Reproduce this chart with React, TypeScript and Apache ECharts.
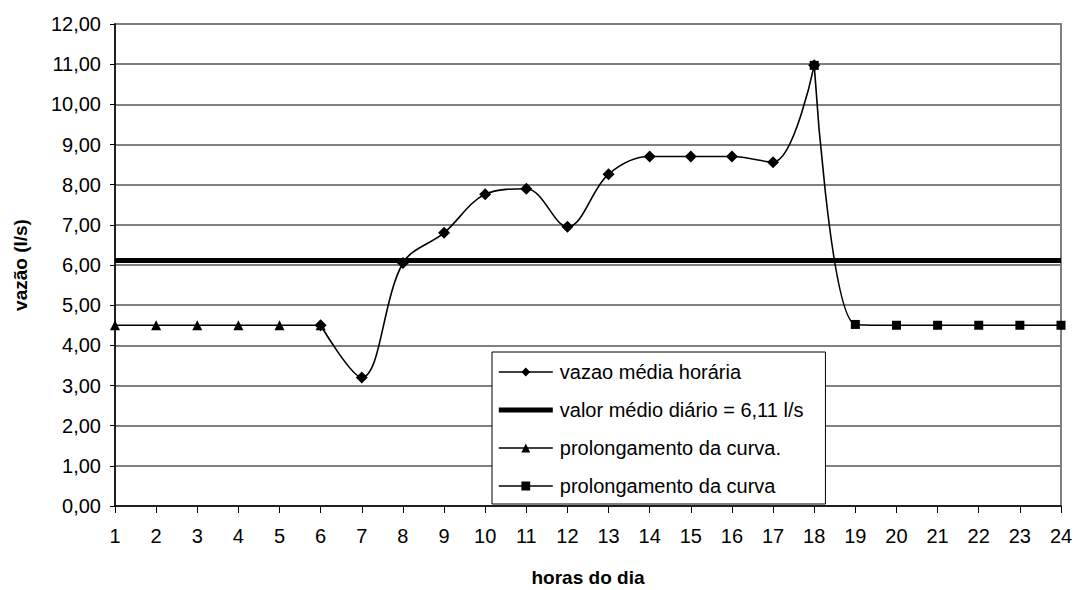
import React, { useEffect, useRef } from "react";
import * as echarts from "echarts";

const hours = ["1","2","3","4","5","6","7","8","9","10","11","12","13","14","15","16","17","18","19","20","21","22","23","24"];
const vazaoMedia = [null,null,null,null,null,4.5,3.2,6.05,6.8,7.76,7.9,6.95,8.26,8.7,8.7,8.7,8.56,10.97,null,null,null,null,null,null];
const valorMedio = [6.11,6.11,6.11,6.11,6.11,6.11,6.11,6.11,6.11,6.11,6.11,6.11,6.11,6.11,6.11,6.11,6.11,6.11,6.11,6.11,6.11,6.11,6.11,6.11];
const prolongInicio = [4.5,4.5,4.5,4.5,4.5,4.5,null,null,null,null,null,null,null,null,null,null,null,null,null,null,null,null,null,null];
const prolongFim = [null,null,null,null,null,null,null,null,null,null,null,null,null,null,null,null,null,10.97,4.52,4.5,4.5,4.5,4.5,4.5];
const seriesNames = ["vazao média horária","valor médio diário = 6,11 l/s","prolongamento da curva.","prolongamento da curva"];

const FONT = "Arial, 'Liberation Sans', sans-serif";

export default function App() {
  const ref = useRef<HTMLDivElement>(null);
  useEffect(() => {
    if (!ref.current) return;
    const chart = echarts.init(ref.current, null, { renderer: "svg" });
    const smooth = 0.35;
    chart.setOption({
      animation: false,
      backgroundColor: "#ffffff",
      textStyle: { fontFamily: FONT, color: "#000" },
      grid: {
        left: 115, right: 14, top: 24, bottom: 84,
        outerBoundsMode: "none",
        containLabel: false,
        show: true, borderColor: "#808080", borderWidth: 2, backgroundColor: "transparent",
      },
      legend: {
        orient: "vertical",
        left: 492,
        top: 352,
        backgroundColor: "#ffffff",
        borderColor: "#000",
        borderWidth: 1,
        padding: [10, 22, 8, 6],
        itemWidth: 54,
        itemHeight: 11,
        itemGap: 18,
        selectedMode: false,
        lineStyle: { width: "inherit" },
        textStyle: { fontFamily: FONT, fontSize: 20, color: "#000", padding: [0, 0, 0, 2] },
        data: [
          { name: seriesNames[0] },
          { name: seriesNames[1], icon: "path://M0,0 H108 V10 H0 Z" },
          { name: seriesNames[2] },
          { name: seriesNames[3] },
        ],
      },
      xAxis: {
        type: "category",
        data: hours,
        boundaryGap: false,
        name: "horas do dia",
        nameLocation: "middle",
        nameGap: 62,
        nameTextStyle: { fontFamily: FONT, fontSize: 19, fontWeight: "bold", color: "#000" },
        axisLine: { lineStyle: { color: "#000", width: 1.5 } },
        axisTick: { show: true, alignWithLabel: true, length: 7, lineStyle: { color: "#000" } },
        axisLabel: { fontFamily: FONT, fontSize: 20, color: "#000", margin: 20 },
        splitLine: { show: false },
      },
      yAxis: {
        type: "value",
        min: 0,
        max: 12,
        interval: 1,
        name: "vazão (l/s)",
        nameLocation: "middle",
        nameGap: 85,
        nameTextStyle: { fontFamily: FONT, fontSize: 19, fontWeight: "bold", color: "#000" },
        axisLine: { show: true, lineStyle: { color: "#000", width: 1.5 } },
        axisTick: { show: true, length: 5, lineStyle: { color: "#000" } },
        axisLabel: { fontFamily: FONT, fontSize: 20, color: "#000", margin: 14, formatter: (v: number) => v.toFixed(2).replace(".", ",") },
        splitLine: { show: true, lineStyle: { color: "#808080", width: 2 } },
      },
      series: [
        {
          name: seriesNames[0],
          type: "line",
          data: vazaoMedia,
          smooth,
          symbol: "diamond",
          symbolSize: 12,
          showAllSymbol: true,
          itemStyle: { color: "#000" },
          lineStyle: { color: "#000", width: 1.6 },
          z: 4,
        },
        {
          name: seriesNames[1],
          type: "line",
          data: valorMedio,
          symbol: "none",
          itemStyle: { color: "#000" },
          lineStyle: { color: "#000", width: 5 },
          z: 3,
        },
        {
          name: seriesNames[2],
          type: "line",
          data: prolongInicio,
          smooth,
          symbol: "triangle",
          symbolSize: 10,
          showAllSymbol: true,
          itemStyle: { color: "#000" },
          lineStyle: { color: "#000", width: 1.6 },
          z: 4,
        },
        {
          name: seriesNames[3],
          type: "line",
          data: prolongFim,
          smooth,
          symbol: "rect",
          symbolSize: 9,
          showAllSymbol: true,
          itemStyle: { color: "#000" },
          lineStyle: { color: "#000", width: 1.6 },
          z: 4,
        },
      ],
    });
    return () => chart.dispose();
  }, []);
  return <div ref={ref} style={{ width: 1075, height: 590, position: "absolute", left: 0, top: 0 }} />;
}
